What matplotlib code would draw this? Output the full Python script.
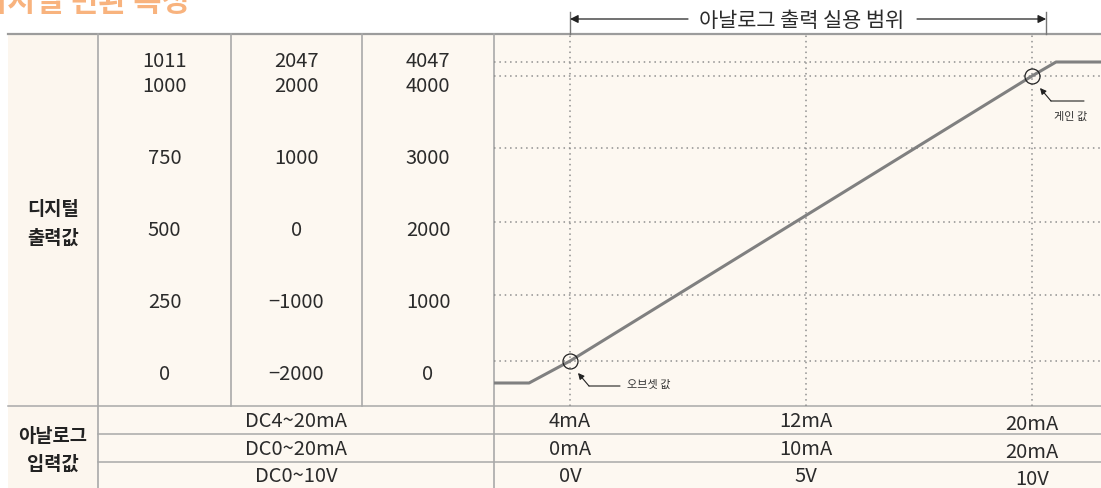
import numpy as np
import matplotlib
matplotlib.use('Agg')
import matplotlib.pyplot as plt
from matplotlib.transforms import blended_transform_factory, offset_copy

plt.rcParams['font.family'] = ['Noto Sans CJK KR', 'DejaVu Sans']

# A/D conversion curve, DC4~20mA input -> 0~1000 digital output
input_ma = [1.42, 2.61, 4, 20, 20.85, 22.44]
output_val = [-12, -12, 0, 1000, 1011, 1011]

offset_point = (4, 0)
gain_point = (20, 1000)
grid_levels = [0, 250, 500, 750, 1000, 1011]
grid_inputs = [4, 12, 20]
usable_range = [4, 20.5]

# schematic (non-linear) axis scales: value -> drawn length in px
x_anchor_val = [1.42, 4, 12, 20, 22.44]
x_anchor_pos = [0, 76, 312, 538, 607]
y_anchor_val = [-25, -12, 0, 250, 500, 750, 1000, 1011, 1033]
y_anchor_pos = [0, 23, 45, 111, 184, 258, 330, 344, 372]

# digital output table (one column per output range)
range_1000 = ['1011', '1000', '750', '500', '250', '0']
range_2000 = ['2047', '2000', '1000', '0', '\u22121000', '\u22122000']
range_4000 = ['4047', '4000', '3000', '2000', '1000', '0']

# analog input table
analog_ranges = ['DC4~20mA', 'DC0~20mA', 'DC0~10V']
analog_ticks = [['4mA', '12mA', '20mA'],
                ['0mA', '10mA', '20mA'],
                ['0V', '5V', '10V']]

W, H = 1101, 488
CREAM = '#fdf8f1'
RULE = '#a9a9a9'
TXT = '#2b2b2b'

fig = plt.figure(figsize=(W / 100, H / 100), dpi=100)

# ---- table background / rules (pixel coordinates) ----
tab = fig.add_axes([0, 0, 1, 1], zorder=0)
tab.set_xlim(0, W)
tab.set_ylim(H, 0)
tab.axis('off')

top, split = 34, 406
rows = [406, 434, 462]
tab.add_patch(plt.Rectangle((8, top), W - 8, H - top, fc=CREAM, ec='none'))
tab.add_patch(plt.Rectangle((8, top), 90, H - top, fc='#fcf6ee', ec='none'))
tab.plot([8, W], [top, top], color='#9c9c9c', lw=1.6)
tab.plot([8, W], [split, split], color=RULE, lw=1.1)
for y in rows[1:]:
    tab.plot([98, W], [y, y], color=RULE, lw=1.1)
for x in [98, 494]:
    tab.plot([x, x], [top, H], color=RULE, lw=1.2)
for x in [231, 362]:
    tab.plot([x, x], [top, split], color=RULE, lw=1.2)

# title (runs off the top edge)
tab.text(-21, 11, '디지털 변환 특성', fontsize=22, weight='bold',
         color='#f8b37e', ha='left', va='baseline')

# row headers
for label, base in [('디지털', 215), ('출력값', 244), ('아날로그', 442), ('입력값', 470)]:
    tab.text(53, base, label, fontsize=13.5, weight='bold', color='#222222',
             ha='center', va='baseline')

# digital values
baselines = [67, 92, 164, 236, 308, 380]
for cx, col in zip([164.5, 296.5, 428], [range_1000, range_2000, range_4000]):
    for base, val in zip(baselines, col):
        tab.text(cx, base, val, fontsize=14.5, color=TXT, ha='center', va='baseline')

# analog input ranges
row_base = [427, 455, 482]
for base, name in zip(row_base, analog_ranges):
    tab.text(296, base, name, fontsize=14.5, color=TXT, ha='center', va='baseline')

# ---- conversion chart ----
ax = fig.add_axes([494 / W, (H - split) / H, (W - 494) / W, (split - top) / H],
                  zorder=1)
ax.patch.set_alpha(0)


def fwd_x(v):
    return np.interp(v, x_anchor_val, x_anchor_pos)


def inv_x(p):
    return np.interp(p, x_anchor_pos, x_anchor_val)


def fwd_y(v):
    return np.interp(v, y_anchor_val, y_anchor_pos)


def inv_y(p):
    return np.interp(p, y_anchor_pos, y_anchor_val)


ax.set_xscale('function', functions=(fwd_x, inv_x))
ax.set_yscale('function', functions=(fwd_y, inv_y))
ax.set_xlim(x_anchor_val[0], x_anchor_val[-1])
ax.set_ylim(y_anchor_val[0], y_anchor_val[-1])
for s in ax.spines.values():
    s.set_visible(False)
ax.set_xticks([])
ax.set_yticks([])
ax.minorticks_off()

dots = dict(color='#8f8f8f', lw=1.1, linestyle=(0, (1, 2.5)), zorder=1)
for lv in grid_levels:
    ax.axhline(lv, **dots)
for xi in grid_inputs:
    ax.axvline(xi, **dots)

ax.plot(input_ma, output_val, color='#808080', lw=2.2, zorder=2,
        solid_capstyle='butt', clip_on=False)
for pt in [offset_point, gain_point]:
    ax.plot(*pt, 'o', ms=10.8, mfc='none', mec='#222222', mew=0.9, zorder=3)


def leader(pt, label, tail, text_dx, text_dy):
    head = offset_copy(ax.transData, fig=fig, x=8, y=-12, units='dots')
    ax.annotate('', xy=pt, xycoords=head, xytext=(11, -13),
                textcoords='offset pixels', annotation_clip=False,
                arrowprops=dict(arrowstyle='-|>', color='#222222', lw=0.8,
                                shrinkA=0, shrinkB=0, mutation_scale=9))
    elbow = offset_copy(ax.transData, fig=fig, x=19, y=-25, units='dots')
    ax.annotate('', xy=pt, xycoords=elbow, xytext=(tail, 0),
                textcoords='offset pixels', annotation_clip=False,
                arrowprops=dict(arrowstyle='-', color='#222222', lw=0.8,
                                shrinkA=0, shrinkB=0))
    ax.annotate(label, xy=pt, xytext=(text_dx, text_dy),
                textcoords='offset pixels', fontsize=8, color='#333333',
                ha='left', va='baseline', annotation_clip=False)


leader(offset_point, '오브셋 값', 31, 57, -27)
leader(gain_point, '게인 값', 33, 22, -44)

# input values under the chart
xt = blended_transform_factory(ax.transData, tab.transData)
col_shift = [0, 0, 3]
for base, ticks in zip(row_base, analog_ticks):
    for xi, t, dy in zip(grid_inputs, ticks, col_shift):
        ax.text(xi, base + dy, t, transform=xt, fontsize=14.5, color=TXT,
                ha='center', va='baseline', clip_on=False)

# usable analog range bracket, split around its caption
caption_gap = [8.0, 15.93]
arrow_kw = dict(arrowstyle='-|>', color='#222222', lw=0.9,
                shrinkA=0, shrinkB=0, mutation_scale=12)
for start, end in [(caption_gap[0], usable_range[0]), (caption_gap[1], usable_range[1])]:
    ax.annotate('', xy=(end, 19), xycoords=xt, xytext=(start, 19),
                textcoords=xt, annotation_clip=False, arrowprops=arrow_kw)
for xr in usable_range:
    ax.plot([xr, xr], [12, 34], transform=xt, color='#777777', lw=1.0,
            clip_on=False)
ax.text(11.85, 27, '아날로그 출력 실용 범위', transform=xt, fontsize=15,
        color=TXT, ha='center', va='baseline', zorder=5, clip_on=False)

fig.savefig('out.png', dpi=100)
